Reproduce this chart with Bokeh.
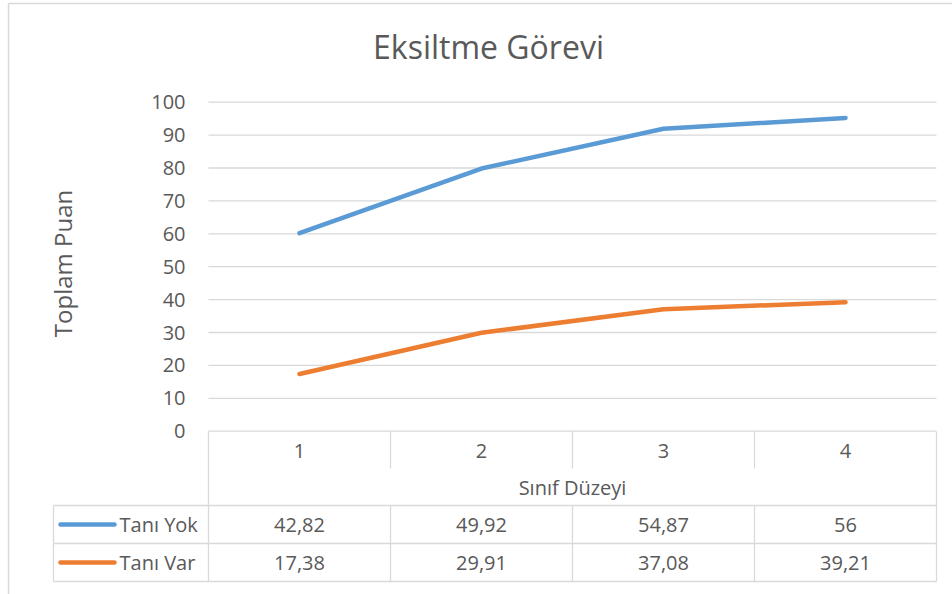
import math
from bokeh.plotting import figure
from bokeh.models import Range1d
from bokeh.core.properties import value
from bokeh.embed import file_html
from bokeh.resources import INLINE

# ---------------- data ----------------
categories = ["1", "2", "3", "4"]
series_names = ["Tanı Yok", "Tanı Var"]
tani_yok = [42.82, 49.92, 54.87, 56]
tani_var = [17.38, 29.91, 37.08, 39.21]
y_ticks = [0, 10, 20, 30, 40, 50, 60, 70, 80, 90, 100]
chart_title = "Eksiltme Görevi"
x_title = "Sınıf Düzeyi"
y_title = "Toplam Puan"

# ---------------- style ----------------
BLUE = "#5B9BD5"
ORANGE = "#ED7D31"
TEXT = "#595959"
GRID = "#D9D9D9"
FONT = value("Open Sans")

# pixel calibration of the canvas (layout only)
PX_C1, PX_STEP = 299.0, 182.0
PX_Y0, PX_UNIT = 430.7, 3.29
W, H = 952, 594


def X(px):
    return 1 + (px - PX_C1) / PX_STEP


def Y(px):
    return (PX_Y0 - px) / PX_UNIT


xs = [i + 1 for i in range(len(categories))]
stack_bottom = tani_var
stack_top = [a + b for a, b in zip(tani_var, tani_yok)]

p = figure(width=W, height=H, x_range=Range1d(X(0), X(W)), y_range=Range1d(Y(H), Y(0)),
           output_backend="svg", toolbar_location=None, min_border=0,
           x_axis_location=None, y_axis_location=None)
p.grid.visible = False
p.outline_line_color = None
p.background_fill_color = "white"
p.border_fill_color = "white"

# outer chart border
p.segment(x0=[X(8), X(8)], y0=[Y(3), Y(3)], x1=[X(W + 5), X(8)], y1=[Y(3), Y(H + 5)],
          line_color=GRID, line_width=1.5)

# gridlines
plot_left, plot_right = 0.5, len(categories) + 0.5
grid_vals = [t for t in y_ticks if t > 0]
p.segment(x0=[plot_left] * len(grid_vals), y0=grid_vals,
          x1=[plot_right] * len(grid_vals), y1=grid_vals,
          line_color=GRID, line_width=1.3)

# y tick labels
p.text(x=[X(185)] * len(y_ticks), y=y_ticks, text=[str(t) for t in y_ticks],
       text_align="right", text_baseline="middle", text_font=FONT,
       text_font_size="20px", text_color=TEXT)

# y axis title
p.text(x=[X(62)], y=[Y(263)], text=[y_title], angle=math.pi / 2,
       text_align="center", text_baseline="middle", text_font=FONT,
       text_font_size="24px", text_color=TEXT)

# chart title
p.text(x=[X(488)], y=[Y(46)], text=[chart_title], text_align="center",
       text_baseline="middle", text_font=FONT, text_font_size="32px",
       text_color=TEXT)

# ---------------- data table ----------------
row_top = Y(431)
row_cat_bottom = Y(468)
row1_top = Y(505)
row2_top = Y(543)
row_bottom = Y(581)
leg_left = X(53)

# horizontal table lines
h_y = [0, row1_top, row2_top, row_bottom]
h_x0 = [plot_left, leg_left, leg_left, leg_left]
p.segment(x0=h_x0, y0=h_y, x1=[plot_right] * 4, y1=h_y, line_color=GRID, line_width=1.3)

# vertical table lines
inner = [c + 0.5 for c in xs[:-1]]
vx0, vy0, vy1 = [], [], []
for xv in inner:
    vx0 += [xv, xv]
    vy0 += [row_top, row1_top]
    vy1 += [row_cat_bottom, row_bottom]
vx0 += [plot_left, plot_right, leg_left]
vy0 += [row_top, row_top, row1_top]
vy1 += [row_bottom, row_bottom, row_bottom]
p.segment(x0=vx0, y0=vy0, x1=vx0, y1=vy1, line_color=GRID, line_width=1.3)

# category labels
p.text(x=xs, y=[Y(450)] * len(xs), text=categories, text_align="center",
       text_baseline="middle", text_font=FONT, text_font_size="20px", text_color=TEXT)

# x title
p.text(x=[(plot_left + plot_right) / 2], y=[Y(487)], text=[x_title], text_align="center",
       text_baseline="middle", text_font=FONT, text_font_size="20px", text_color=TEXT)


def fmt(v):
    return f"{v:g}".replace(".", ",")


row_centers = [Y(524), Y(562)]
for vals, yc, name, col in zip([tani_yok, tani_var], row_centers, series_names, [BLUE, ORANGE]):
    p.text(x=xs, y=[yc] * len(xs), text=[fmt(v) for v in vals], text_align="center",
           text_baseline="middle", text_font=FONT, text_font_size="20px", text_color=TEXT)
    p.line(x=[X(60), X(114)], y=[yc, yc], line_color=col, line_width=4.5, line_cap="round")
    p.text(x=[X(119)], y=[yc], text=[name], text_align="left", text_baseline="middle",
           text_font=FONT, text_font_size="20px", text_color=TEXT)

# ---------------- series lines (stacked) ----------------
p.line(x=xs, y=stack_top, line_color=BLUE, line_width=4.5, line_cap="round", line_join="round")
p.line(x=xs, y=stack_bottom, line_color=ORANGE, line_width=4.5, line_cap="round", line_join="round")

open("out.html", "w").write(file_html(p, INLINE))
